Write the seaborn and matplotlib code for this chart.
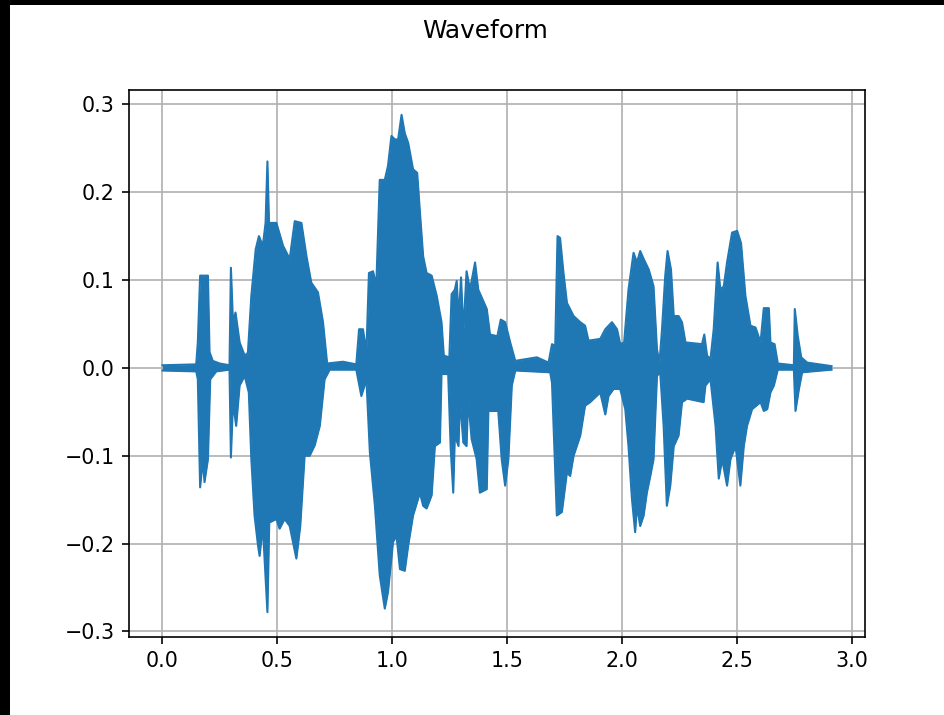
import matplotlib
matplotlib.use('Agg')
import matplotlib.pyplot as plt
from matplotlib.patches import Rectangle
import pandas as pd
import seaborn as sns

# envelope of the signal (seconds, amplitude)
t_upper = [0.000, 0.147, 0.154, 0.164, 0.179, 0.198, 0.205, 0.219, 0.249, 0.292,
           0.298, 0.307, 0.318, 0.336, 0.358, 0.372, 0.387, 0.406, 0.420, 0.437,
           0.449, 0.457, 0.464, 0.496, 0.525, 0.554, 0.576, 0.605, 0.627, 0.648,
           0.677, 0.699, 0.717, 0.786, 0.844, 0.856, 0.873, 0.888, 0.899, 0.917,
           0.931, 0.946, 0.968, 0.982, 0.997, 1.012, 1.026, 1.041, 1.055, 1.070,
           1.091, 1.109, 1.121, 1.135, 1.150, 1.172, 1.194, 1.215, 1.225, 1.249,
           1.259, 1.273, 1.281, 1.290, 1.300, 1.310, 1.324, 1.339, 1.361, 1.375,
           1.400, 1.412, 1.426, 1.458, 1.473, 1.492, 1.514, 1.536, 1.630, 1.681,
           1.696, 1.710, 1.720, 1.731, 1.746, 1.761, 1.790, 1.819, 1.840, 1.855,
           1.906, 1.928, 1.957, 1.979, 1.993, 2.010, 2.029, 2.051, 2.066, 2.080,
           2.095, 2.117, 2.138, 2.153, 2.164, 2.175, 2.189, 2.199, 2.214, 2.226,
           2.247, 2.262, 2.277, 2.349, 2.359, 2.371, 2.386, 2.400, 2.417, 2.429,
           2.444, 2.458, 2.480, 2.502, 2.519, 2.538, 2.560, 2.582, 2.604, 2.618,
           2.640, 2.647, 2.665, 2.679, 2.749, 2.753, 2.766, 2.781, 2.807, 2.913]
upper = [0.003, 0.004, 0.029, 0.105, 0.105, 0.105, 0.018, 0.008, 0.005, 0.003,
         0.114, 0.052, 0.063, 0.029, 0.014, 0.017, 0.082, 0.135, 0.150, 0.139,
         0.165, 0.235, 0.165, 0.165, 0.139, 0.124, 0.167, 0.165, 0.127, 0.097,
         0.086, 0.052, 0.005, 0.007, 0.004, 0.044, 0.044, 0.018, 0.108, 0.110,
         0.093, 0.214, 0.214, 0.230, 0.264, 0.260, 0.260, 0.288, 0.267, 0.256,
         0.226, 0.222, 0.177, 0.127, 0.108, 0.105, 0.082, 0.052, 0.014, 0.012,
         0.084, 0.089, 0.099, 0.055, 0.103, 0.040, 0.110, 0.089, 0.120, 0.089,
         0.074, 0.067, 0.038, 0.036, 0.055, 0.052, 0.029, 0.008, 0.012, 0.006,
         0.027, 0.025, 0.150, 0.148, 0.108, 0.074, 0.059, 0.052, 0.048, 0.031,
         0.033, 0.044, 0.052, 0.044, 0.027, 0.029, 0.089, 0.131, 0.120, 0.133,
         0.124, 0.112, 0.093, 0.021, 0.006, 0.044, 0.105, 0.133, 0.112, 0.059,
         0.059, 0.052, 0.029, 0.027, 0.038, 0.014, 0.010, 0.044, 0.120, 0.089,
         0.093, 0.120, 0.154, 0.156, 0.142, 0.082, 0.048, 0.046, 0.029, 0.068,
         0.068, 0.029, 0.027, 0.005, 0.003, 0.067, 0.036, 0.012, 0.006, 0.002]

t_lower = [0.000, 0.147, 0.154, 0.164, 0.176, 0.183, 0.198, 0.208, 0.234, 0.292,
           0.298, 0.307, 0.321, 0.336, 0.358, 0.376, 0.387, 0.401, 0.416, 0.423,
           0.437, 0.457, 0.465, 0.496, 0.510, 0.532, 0.554, 0.583, 0.600, 0.619,
           0.641, 0.663, 0.685, 0.706, 0.728, 0.844, 0.866, 0.888, 0.903, 0.925,
           0.946, 0.968, 0.982, 1.004, 1.019, 1.034, 1.055, 1.070, 1.091, 1.121,
           1.135, 1.150, 1.172, 1.186, 1.208, 1.215, 1.244, 1.255, 1.266, 1.273,
           1.289, 1.295, 1.310, 1.324, 1.331, 1.346, 1.368, 1.382, 1.412, 1.419,
           1.462, 1.477, 1.492, 1.506, 1.521, 1.536, 1.688, 1.696, 1.717, 1.739,
           1.761, 1.775, 1.790, 1.819, 1.840, 1.862, 1.906, 1.928, 1.942, 1.964,
           1.993, 2.015, 2.029, 2.044, 2.058, 2.066, 2.080, 2.095, 2.109, 2.124,
           2.138, 2.153, 2.167, 2.182, 2.196, 2.211, 2.226, 2.247, 2.262, 2.284,
           2.356, 2.364, 2.386, 2.408, 2.422, 2.437, 2.458, 2.473, 2.495, 2.516,
           2.531, 2.545, 2.567, 2.604, 2.618, 2.633, 2.647, 2.662, 2.679, 2.749,
           2.756, 2.771, 2.785, 2.913]
lower = [-0.003, -0.004, -0.013, -0.136, -0.104, -0.130, -0.104, -0.013, -0.004, -0.002,
         -0.102, -0.039, -0.066, -0.020, -0.009, -0.028, -0.104, -0.168, -0.202, -0.214,
         -0.180, -0.278, -0.176, -0.172, -0.183, -0.172, -0.180, -0.217, -0.180, -0.100,
         -0.100, -0.088, -0.066, -0.013, -0.002, -0.002, -0.032, -0.013, -0.096, -0.157,
         -0.236, -0.274, -0.255, -0.198, -0.191, -0.229, -0.231, -0.202, -0.168, -0.142,
         -0.157, -0.160, -0.145, -0.089, -0.085, -0.007, -0.007, -0.092, -0.142, -0.077,
         -0.089, -0.035, -0.085, -0.089, -0.035, -0.081, -0.104, -0.142, -0.138, -0.049,
         -0.049, -0.104, -0.134, -0.104, -0.020, -0.003, -0.005, -0.017, -0.168, -0.164,
         -0.119, -0.123, -0.100, -0.077, -0.043, -0.039, -0.028, -0.053, -0.032, -0.024,
         -0.024, -0.047, -0.089, -0.149, -0.187, -0.157, -0.180, -0.168, -0.142, -0.123,
         -0.104, -0.009, -0.005, -0.066, -0.157, -0.134, -0.089, -0.077, -0.039, -0.035,
         -0.039, -0.020, -0.013, -0.066, -0.126, -0.104, -0.134, -0.104, -0.089, -0.134,
         -0.089, -0.066, -0.047, -0.039, -0.049, -0.047, -0.028, -0.020, -0.002, -0.002,
         -0.049, -0.024, -0.005, -0.002]

x_ticks = [0.0, 0.5, 1.0, 1.5, 2.0, 2.5, 3.0]
y_ticks = [-0.3, -0.2, -0.1, 0.0, 0.1, 0.2, 0.3]
title = 'Waveform'

BLUE = '#1f77b4'
S = 1.484  # the original was saved at about 148 dpi

plt.rcParams.update({
    'font.family': 'DejaVu Sans',
    'font.size': 10 * S,
    'axes.linewidth': 0.8 * S,
    'xtick.major.size': 3.5 * S,
    'ytick.major.size': 3.5 * S,
    'xtick.major.width': 0.8 * S,
    'ytick.major.width': 0.8 * S,
    'xtick.major.pad': 3.5 * S,
    'ytick.major.pad': 3.5 * S,
})

up_df = pd.DataFrame({'time': t_upper, 'amp': upper})
lo_df = pd.DataFrame({'time': t_lower, 'amp': lower})

fig = plt.figure(figsize=(9.44, 7.15), dpi=100, facecolor='black')
# the screenshot has a thin black strip on top and on the left
fig.patches.append(Rectangle((10 / 944, 0), 1, 1 - 5 / 715, transform=fig.transFigure,
                             facecolor='white', edgecolor='none', zorder=-1))

ax = fig.add_axes([129 / 944, 78 / 715, 736 / 944, 547 / 715])

# the two halves overlap a hair so no seam shows on the zero line
ax.fill_between(up_df['time'], -0.002, up_df['amp'], color=BLUE, lw=0, zorder=2)
ax.fill_between(lo_df['time'], lo_df['amp'], 0.002, color=BLUE, lw=0, zorder=2)
sns.lineplot(data=up_df, x='time', y='amp', ax=ax, color=BLUE, lw=1.5, estimator=None)
sns.lineplot(data=lo_df, x='time', y='amp', ax=ax, color=BLUE, lw=1.5, estimator=None)

ax.set_xticks(x_ticks)
ax.set_yticks(y_ticks)
ax.set_xlabel('')
ax.set_ylabel('')
ax.grid(True, color='#b0b0b0', lw=0.8 * S)

fig.text(485 / 944, 1 - 38 / 715, title, ha='center', va='baseline', fontsize=12 * S)

fig.savefig('out.png', dpi=100, facecolor=fig.get_facecolor())
